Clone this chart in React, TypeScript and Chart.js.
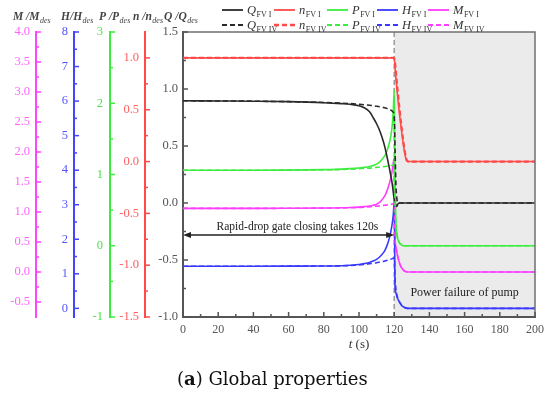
import React, { useEffect, useRef } from 'react';
import { Chart, registerables } from 'chart.js';

Chart.register(...registerables);

// ---------- data ----------
const TIME = [0, 20, 40, 60, 80, 90, 95, 100, 103, 106, 108, 110, 112, 114, 115, 116, 117, 118, 119, 119.5, 120, 120.5, 121, 121.5, 122, 123, 124, 125, 126, 127, 128, 140, 160, 180, 200];

const Q_FV1 = [0.897, 0.895, 0.893, 0.889, 0.88, 0.872, 0.866, 0.853, 0.835, 0.8, 0.75, 0.695, 0.625, 0.53, 0.47, 0.4, 0.325, 0.245, 0.155, 0.09, 0.03, 0.0, -0.02, -0.03, -0.01, 0, 0, 0, 0, 0, 0, 0, 0, 0, 0];
const Q_FV4 = [0.897, 0.895, 0.893, 0.889, 0.882, 0.876, 0.872, 0.866, 0.862, 0.857, 0.853, 0.849, 0.844, 0.837, 0.833, 0.828, 0.822, 0.815, 0.805, 0.795, 0.76, 0.45, 0.15, 0.04, 0.0, 0, 0, 0, 0, 0, 0, 0, 0, 0, 0];

const N_FV1 = [1, 1, 1, 1, 1, 1, 1, 1, 1, 1, 1, 1, 1, 1, 1, 1, 1, 1, 1, 1, 1.0, 0.9, 0.8, 0.71, 0.62, 0.46, 0.32, 0.19, 0.08, 0.01, 0, 0, 0, 0, 0];
const N_FV4 = [1, 1, 1, 1, 1, 1, 1, 1, 1, 1, 1, 1, 1, 1, 1, 1, 1, 1, 1, 1, 1.0, 0.95, 0.86, 0.77, 0.68, 0.51, 0.36, 0.22, 0.1, 0.02, 0, 0, 0, 0, 0];

const P_FV1 = [1.06, 1.06, 1.06, 1.062, 1.068, 1.075, 1.082, 1.092, 1.1, 1.112, 1.125, 1.145, 1.18, 1.24, 1.28, 1.34, 1.42, 1.53, 1.72, 1.9, 2.19, 0.9, 0.3, 0.17, 0.1, 0.04, 0.015, 0, 0, 0, 0, 0, 0, 0, 0];
const P_FV4 = [1.06, 1.06, 1.06, 1.062, 1.066, 1.07, 1.074, 1.08, 1.085, 1.09, 1.095, 1.1, 1.105, 1.11, 1.113, 1.117, 1.12, 1.125, 1.13, 1.135, 1.14, 0.6, 0.3, 0.17, 0.1, 0.04, 0.015, 0, 0, 0, 0, 0, 0, 0, 0];

const H_FV1 = [1.22, 1.22, 1.22, 1.222, 1.226, 1.235, 1.248, 1.27, 1.295, 1.33, 1.37, 1.42, 1.5, 1.62, 1.71, 1.83, 1.99, 2.2, 2.5, 2.72, 3.07, 0.6, 0.45, 0.35, 0.28, 0.18, 0.1, 0.05, 0.02, 0.005, 0, 0, 0, 0, 0];
const H_FV4 = [1.22, 1.22, 1.22, 1.222, 1.226, 1.232, 1.24, 1.255, 1.27, 1.29, 1.305, 1.32, 1.34, 1.36, 1.375, 1.39, 1.405, 1.42, 1.44, 1.455, 1.47, 0.85, 0.55, 0.4, 0.3, 0.19, 0.11, 0.06, 0.025, 0.007, 0, 0, 0, 0, 0];

const M_FV1 = [1.06, 1.06, 1.06, 1.062, 1.066, 1.07, 1.075, 1.082, 1.09, 1.1, 1.112, 1.13, 1.17, 1.24, 1.29, 1.36, 1.45, 1.56, 1.71, 1.82, 1.9, 0.55, 0.42, 0.33, 0.26, 0.15, 0.08, 0.04, 0.015, 0.003, 0, 0, 0, 0, 0];
const M_FV4 = [1.06, 1.06, 1.06, 1.062, 1.065, 1.068, 1.072, 1.077, 1.082, 1.088, 1.092, 1.097, 1.103, 1.11, 1.114, 1.118, 1.123, 1.128, 1.135, 1.14, 1.15, 0.55, 0.42, 0.33, 0.26, 0.15, 0.08, 0.04, 0.015, 0.003, 0, 0, 0, 0, 0];

// ---------- ticks ----------
const X_TICKS = [0, 20, 40, 60, 80, 100, 120, 140, 160, 180, 200];
const X_MINOR = [10, 30, 50, 70, 90, 110, 130, 150, 170, 190];
const Q_TICKS = [-1, -0.5, 0, 0.5, 1, 1.5];
const Q_MINOR = [-0.75, -0.25, 0.25, 0.75, 1.25];
const N_TICKS = [-1.5, -1, -0.5, 0, 0.5, 1];
const N_MINOR = [-1.25, -0.75, -0.25, 0.25, 0.75];
const P_TICKS = [-1, 0, 1, 2, 3];
const P_MINOR = [-0.5, 0.5, 1.5, 2.5];
const H_TICKS = [0, 1, 2, 3, 4, 5, 6, 7, 8];
const H_MINOR = [0.5, 1.5, 2.5, 3.5, 4.5, 5.5, 6.5, 7.5];
const M_TICKS = [-0.5, 0, 0.5, 1, 1.5, 2, 2.5, 3, 3.5, 4];
const M_MINOR = [-0.25, 0.25, 0.75, 1.25, 1.75, 2.25, 2.75, 3.25, 3.75];

// ---------- labels / annotations ----------
const SERIES_NAMES = ['Q', 'n', 'P', 'H', 'M'];
const CASE_SUBS = ['FV I', 'FV IV'];
const AXIS_TITLES = ['M /M', 'H/H', 'P /P', 'n /n', 'Q /Q'];
const GATE_T = 120;
const END_T = 200;
const ARROW_Q = -0.28;
const ARROW_TEXT = 'Rapid-drop gate closing takes 120s';
const ARROW_TEXT_T = 65;
const POWER_TEXT = 'Power failure of pump';
const POWER_TEXT_T = 160;
const POWER_TEXT_Q = -0.79;
const CAPTION = ['(', 'a', ') Global properties'];

const COLORS: Record<string, string> = { Q: '#2a2a2a', n: '#ff4a4a', P: '#3ded3d', H: '#3a3aff', M: '#ff3dff' };
const AXIS_COLORS: Record<string, string> = { Q: '#555555', n: '#ff4a4a', P: '#3ded3d', H: '#4444ff', M: '#ff44ff' };
const LABEL_COLORS: Record<string, string> = { Q: '#555555', n: '#ff6060', P: '#50e050', H: '#5555ff', M: '#ff66ff' };
const SERIF = 'Liberation Serif';

const MINORS: Record<string, number[]> = { yQ: Q_MINOR, yN: N_MINOR, yP: P_MINOR, yH: H_MINOR, yM: M_MINOR };
const MAJORS: Record<string, number[]> = { yQ: Q_TICKS, yN: N_TICKS, yP: P_TICKS, yH: H_TICKS, yM: M_TICKS };
const AXIS_KEY: Record<string, string> = { yQ: 'Q', yN: 'n', yP: 'P', yH: 'H', yM: 'M' };

function drawSubText(ctx: CanvasRenderingContext2D, x: number, y: number, main: string, sub: string, mainFont: string, subFont: string, color: string) {
  ctx.fillStyle = color;
  ctx.textAlign = 'left';
  ctx.textBaseline = 'alphabetic';
  ctx.font = mainFont;
  ctx.fillText(main, x, y);
  const w = ctx.measureText(main).width;
  ctx.font = subFont;
  ctx.fillText(sub, x + w + 0.5, y + 3);
}

const annotPlugin = {
  id: 'annot',
  beforeDatasetsDraw(chart: any) {
    const { ctx, chartArea: a, scales } = chart;
    const xs = scales.x;
    ctx.save();
    const x0 = xs.getPixelForValue(GATE_T);
    const x1 = xs.getPixelForValue(END_T);
    ctx.fillStyle = '#ebebeb';
    ctx.fillRect(x0, a.top, x1 - x0, a.bottom - a.top - 1);
    ctx.strokeStyle = '#9a9a9a';
    ctx.lineWidth = 1.5;
    ctx.setLineDash([5, 3]);
    ctx.beginPath();
    ctx.moveTo(x0, a.top);
    ctx.lineTo(x0, a.bottom);
    ctx.stroke();
    ctx.restore();
  },
  afterDatasetsDraw(chart: any) {
    const { ctx, chartArea: a, scales } = chart;
    const xs = scales.x;
    const qs = scales.yQ;
    ctx.save();
    ctx.strokeStyle = '#707070';
    ctx.lineWidth = 1.5;
    ctx.beginPath();
    ctx.moveTo(a.left, a.top);
    ctx.lineTo(a.right, a.top);
    ctx.lineTo(a.right, a.bottom);
    ctx.stroke();
    Object.keys(MAJORS).forEach((id) => {
      const s = scales[id];
      const xl = s.right;
      ctx.strokeStyle = AXIS_COLORS[AXIS_KEY[id]];
      ctx.lineWidth = 1.5;
      MAJORS[id].forEach((v) => {
        const y = s.getPixelForValue(v);
        ctx.beginPath(); ctx.moveTo(xl, y); ctx.lineTo(xl + 5, y); ctx.stroke();
      });
      MINORS[id].forEach((v) => {
        const y = s.getPixelForValue(v);
        ctx.beginPath(); ctx.moveTo(xl, y); ctx.lineTo(xl + 3, y); ctx.stroke();
      });
    });
    ctx.strokeStyle = '#555';
    X_TICKS.forEach((v) => {
      const x = xs.getPixelForValue(v);
      ctx.beginPath(); ctx.moveTo(x, a.bottom); ctx.lineTo(x, a.bottom - 5); ctx.stroke();
    });
    X_MINOR.forEach((v) => {
      const x = xs.getPixelForValue(v);
      ctx.beginPath(); ctx.moveTo(x, a.bottom); ctx.lineTo(x, a.bottom - 3); ctx.stroke();
    });
    const ay = qs.getPixelForValue(ARROW_Q);
    const ax0 = xs.getPixelForValue(0);
    const ax1 = xs.getPixelForValue(GATE_T);
    ctx.strokeStyle = '#222';
    ctx.fillStyle = '#222';
    ctx.lineWidth = 1.5;
    ctx.beginPath(); ctx.moveTo(ax0 + 4, ay); ctx.lineTo(ax1 - 4, ay); ctx.stroke();
    ctx.beginPath(); ctx.moveTo(ax0, ay); ctx.lineTo(ax0 + 8, ay - 3); ctx.lineTo(ax0 + 8, ay + 3); ctx.closePath(); ctx.fill();
    ctx.beginPath(); ctx.moveTo(ax1, ay); ctx.lineTo(ax1 - 8, ay - 3); ctx.lineTo(ax1 - 8, ay + 3); ctx.closePath(); ctx.fill();
    ctx.font = `11.5px "${SERIF}"`;
    ctx.textAlign = 'center';
    ctx.textBaseline = 'alphabetic';
    ctx.fillText(ARROW_TEXT, xs.getPixelForValue(ARROW_TEXT_T), ay - 5);
    ctx.font = `12px "${SERIF}"`;
    ctx.textBaseline = 'middle';
    ctx.fillText(POWER_TEXT, xs.getPixelForValue(POWER_TEXT_T), qs.getPixelForValue(POWER_TEXT_Q));
    ctx.restore();
    // y-axes (z = 1) are drawn right after this hook: spaced digits like the reference
    (ctx as any).letterSpacing = '1px';
  },
  afterDraw(chart: any) {
    const { ctx, chartArea: a } = chart;
    (ctx as any).letterSpacing = '0px';
    ctx.save();
    const LX = [222, 274, 327, 377, 428];
    const LY = [10, 25];
    CASE_SUBS.forEach((sub, r) => {
      SERIES_NAMES.forEach((name, c) => {
        const y = LY[r];
        const x = LX[c];
        ctx.strokeStyle = COLORS[name];
        ctx.lineWidth = name === 'n' && r === 1 ? 2.4 : 1.8;
        ctx.setLineDash(r === 1 ? [5, 3] : []);
        ctx.beginPath(); ctx.moveTo(x, y); ctx.lineTo(x + 21, y); ctx.stroke();
        ctx.setLineDash([]);
        drawSubText(ctx, x + 25, y + 4, name, sub, `italic 12.5px "${SERIF}"`, `8px "${SERIF}"`, '#333');
      });
    });
    const TX = [13, 61, 99, 133, 164];
    AXIS_TITLES.forEach((t, i) => {
      drawSubText(ctx, TX[i], 20, t, 'des', `italic bold 11.5px "${SERIF}"`, `italic 8px "${SERIF}"`, '#444');
    });
    ctx.fillStyle = '#333';
    ctx.textBaseline = 'alphabetic';
    const cx = (a.left + a.right) / 2;
    ctx.font = `italic 13px "${SERIF}"`;
    const w1 = ctx.measureText('t').width;
    ctx.font = `13px "${SERIF}"`;
    const w2 = ctx.measureText(' (s)').width;
    const sx = cx - (w1 + w2) / 2;
    ctx.textAlign = 'left';
    ctx.font = `italic 13px "${SERIF}"`;
    ctx.fillText('t', sx, 348);
    ctx.font = `13px "${SERIF}"`;
    ctx.fillText(' (s)', sx + w1, 348);
    let cxp = 177;
    ctx.fillStyle = '#111';
    CAPTION.forEach((part, i) => {
      ctx.font = `${i === 1 ? 'bold ' : ''}18px "DejaVu Serif"`;
      ctx.fillText(part, cxp, 385);
      cxp += ctx.measureText(part).width;
    });
    ctx.restore();
  },
};

function yAxis(ticksArr: number[], key: string, width: number, weight: number, pad: number, min: number, max: number, decimals: number) {
  return {
    type: 'linear',
    position: 'left',
    min,
    max,
    weight,
    z: 1,
    grid: { display: false, drawTicks: false },
    border: { display: true, color: AXIS_COLORS[key], width: 2 },
    ticks: {
      color: LABEL_COLORS[key],
      font: { family: SERIF, size: 12.5 },
      padding: pad,
      autoSkip: false,
      callback: (v: any) => Number(v).toFixed(decimals),
    },
    afterBuildTicks: (s: any) => { s.ticks = ticksArr.map((v) => ({ value: v })); },
    afterFit: (s: any) => { s.width = width; },
  };
}

export default function App() {
  const ref = useRef<HTMLCanvasElement>(null);
  useEffect(() => {
    const canvas = ref.current;
    if (!canvas) return;
    const mk = (vals: number[]) => TIME.map((t, i) => ({ x: t, y: vals[i] }));
    const ds = (name: string, sub: string, vals: number[], axis: string, dashed: boolean) => ({
      label: `${name} ${sub}`,
      data: mk(vals),
      yAxisID: axis,
      borderColor: COLORS[name],
      backgroundColor: COLORS[name],
      borderWidth: dashed && name === 'n' ? 2.2 : 1.6,
      borderDash: dashed ? [5, 3] : [],
      pointRadius: 0,
      fill: false,
      cubicInterpolationMode: 'monotone',
    });
    const chart = new Chart(canvas, {
      type: 'line',
      data: {
        datasets: [
          ds('Q', CASE_SUBS[1], Q_FV4, 'yQ', true),
          ds('n', CASE_SUBS[1], N_FV4, 'yN', true),
          ds('P', CASE_SUBS[1], P_FV4, 'yP', true),
          ds('H', CASE_SUBS[1], H_FV4, 'yH', true),
          ds('M', CASE_SUBS[1], M_FV4, 'yM', true),
          ds('Q', CASE_SUBS[0], Q_FV1, 'yQ', false),
          ds('n', CASE_SUBS[0], N_FV1, 'yN', false),
          ds('P', CASE_SUBS[0], P_FV1, 'yP', false),
          ds('H', CASE_SUBS[0], H_FV1, 'yH', false),
          ds('M', CASE_SUBS[0], M_FV1, 'yM', false),
        ] as any,
      },
      options: {
        responsive: false,
        animation: false,
        devicePixelRatio: 1,
        layout: { padding: { left: 0, right: 12, top: 32, bottom: 40 } },
        plugins: { legend: { display: false }, tooltip: { enabled: false } },
        scales: {
          x: {
            type: 'linear',
            min: 0,
            max: END_T,
            position: 'bottom',
            grid: { display: false, drawTicks: false },
            border: { display: true, color: '#555', width: 2 },
            ticks: {
              color: '#555',
              font: { family: SERIF, size: 12 },
              padding: 6,
              autoSkip: false,
              maxRotation: 0,
              callback: (v: any) => String(v),
            },
            afterBuildTicks: (s: any) => { s.ticks = X_TICKS.map((v) => ({ value: v })); },
            afterFit: (s: any) => { s.height = 39; },
          },
          yQ: yAxis(Q_TICKS, 'Q', 38, 0, 5, -1, 1.5, 1),
          yN: yAxis(N_TICKS, 'n', 35, 1, 6, -1.5, 1.25, 1),
          yP: yAxis(P_TICKS, 'P', 36, 2, 7, -1, 3, 0),
          yH: yAxis(H_TICKS, 'H', 38, 3, 6, -0.25, 8, 0),
          yM: yAxis(M_TICKS, 'M', 36, 4, 6, -0.75, 4, 1),
        } as any,
      },
      plugins: [annotPlugin],
    });
    return () => chart.destroy();
  }, []);
  return (
    <div style={{ position: 'fixed', left: 0, top: 0, width: 550, height: 396, background: '#fff' }}>
      <canvas ref={ref} width={550} height={396} style={{ display: 'block', width: 550, height: 396 }} />
    </div>
  );
}
